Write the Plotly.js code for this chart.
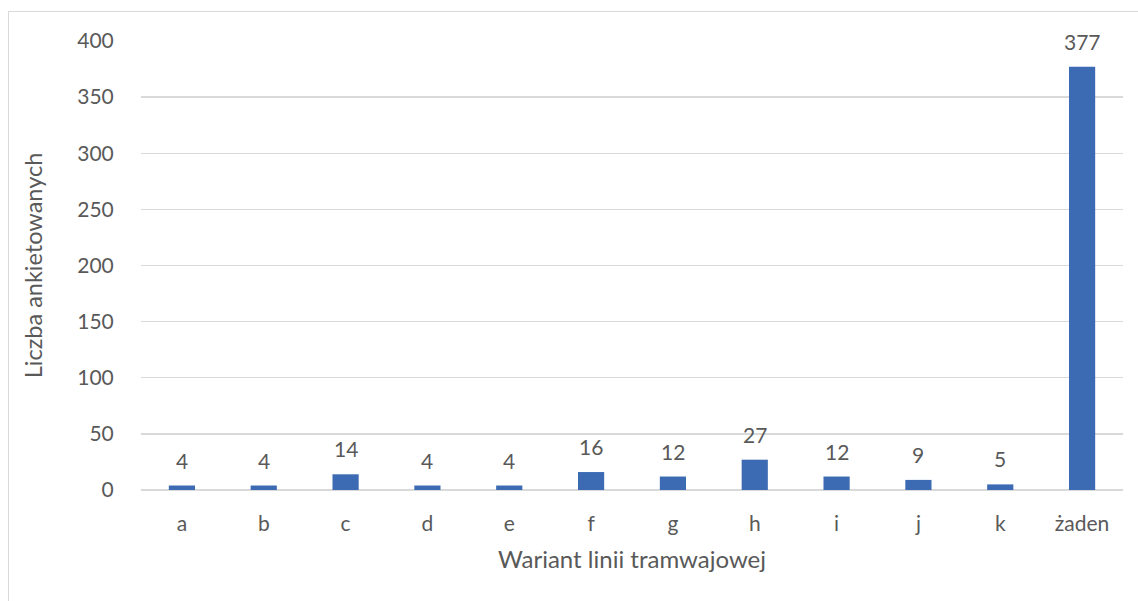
<!DOCTYPE html>
<html><head><meta charset="utf-8">
<script src="https://cdn.plot.ly/plotly-3.0.1.min.js"></script>
<style>
body{margin:0;background:#fff;}
#frame{position:absolute;left:8px;top:11px;width:1140px;height:600px;border-left:1px solid #d9d9d9;border-top:1px solid #d9d9d9;}
#chart{position:absolute;left:0;top:0;width:1138px;height:601px;}
</style></head>
<body>
<div id="frame"></div>
<div id="chart"></div>
<script>
const categories = ["a","b","c","d","e","f","g","h","i","j","k","żaden"];
const values = [4,4,14,4,4,16,12,27,12,9,5,377];
const yTicks = [0,50,100,150,200,250,300,350,400];

const font = {family:"Lato, Open Sans, sans-serif", color:"#595959"};

const trace = {
  type:"bar", x:categories, y:values, width:0.32,
  marker:{color:"#3d6bb3"}, hoverinfo:"none"
};
const annotations = categories.map((c,i)=>({
  x:c, y:values[i], xref:"x", yref:"y", text:String(values[i]),
  showarrow:false, yanchor:"bottom", yshift:11,
  font:Object.assign({size:21}, font)
}));

Plotly.newPlot("chart",[trace],{
  width:1138, height:601,
  margin:{l:141,r:15,t:41,b:111},
  paper_bgcolor:"rgba(0,0,0,0)", plot_bgcolor:"rgba(0,0,0,0)",
  showlegend:false,
  xaxis:{
    type:"category", showgrid:false, zeroline:false, showline:false,
    ticks:"outside", ticklen:15, tickcolor:"rgba(0,0,0,0)",
    tickfont:Object.assign({size:21},font),
    title:{text:"Wariant linii tramwajowej", font:Object.assign({size:24},font), standoff:16}
  },
  yaxis:{
    range:[0,400], tickvals:yTicks, showgrid:true, gridcolor:"#d9d9d9", gridwidth:1.3,
    zeroline:true, zerolinecolor:"#d9d9d9", zerolinewidth:1.3, showline:false,
    ticks:"outside", ticklen:22, tickcolor:"rgba(0,0,0,0)",
    tickfont:Object.assign({size:21},font),
    title:{text:"Liczba ankietowanych", font:Object.assign({size:23.5},font), standoff:28}
  },
  annotations:annotations
},{displayModeBar:false, staticPlot:true});
</script>
</body></html>
